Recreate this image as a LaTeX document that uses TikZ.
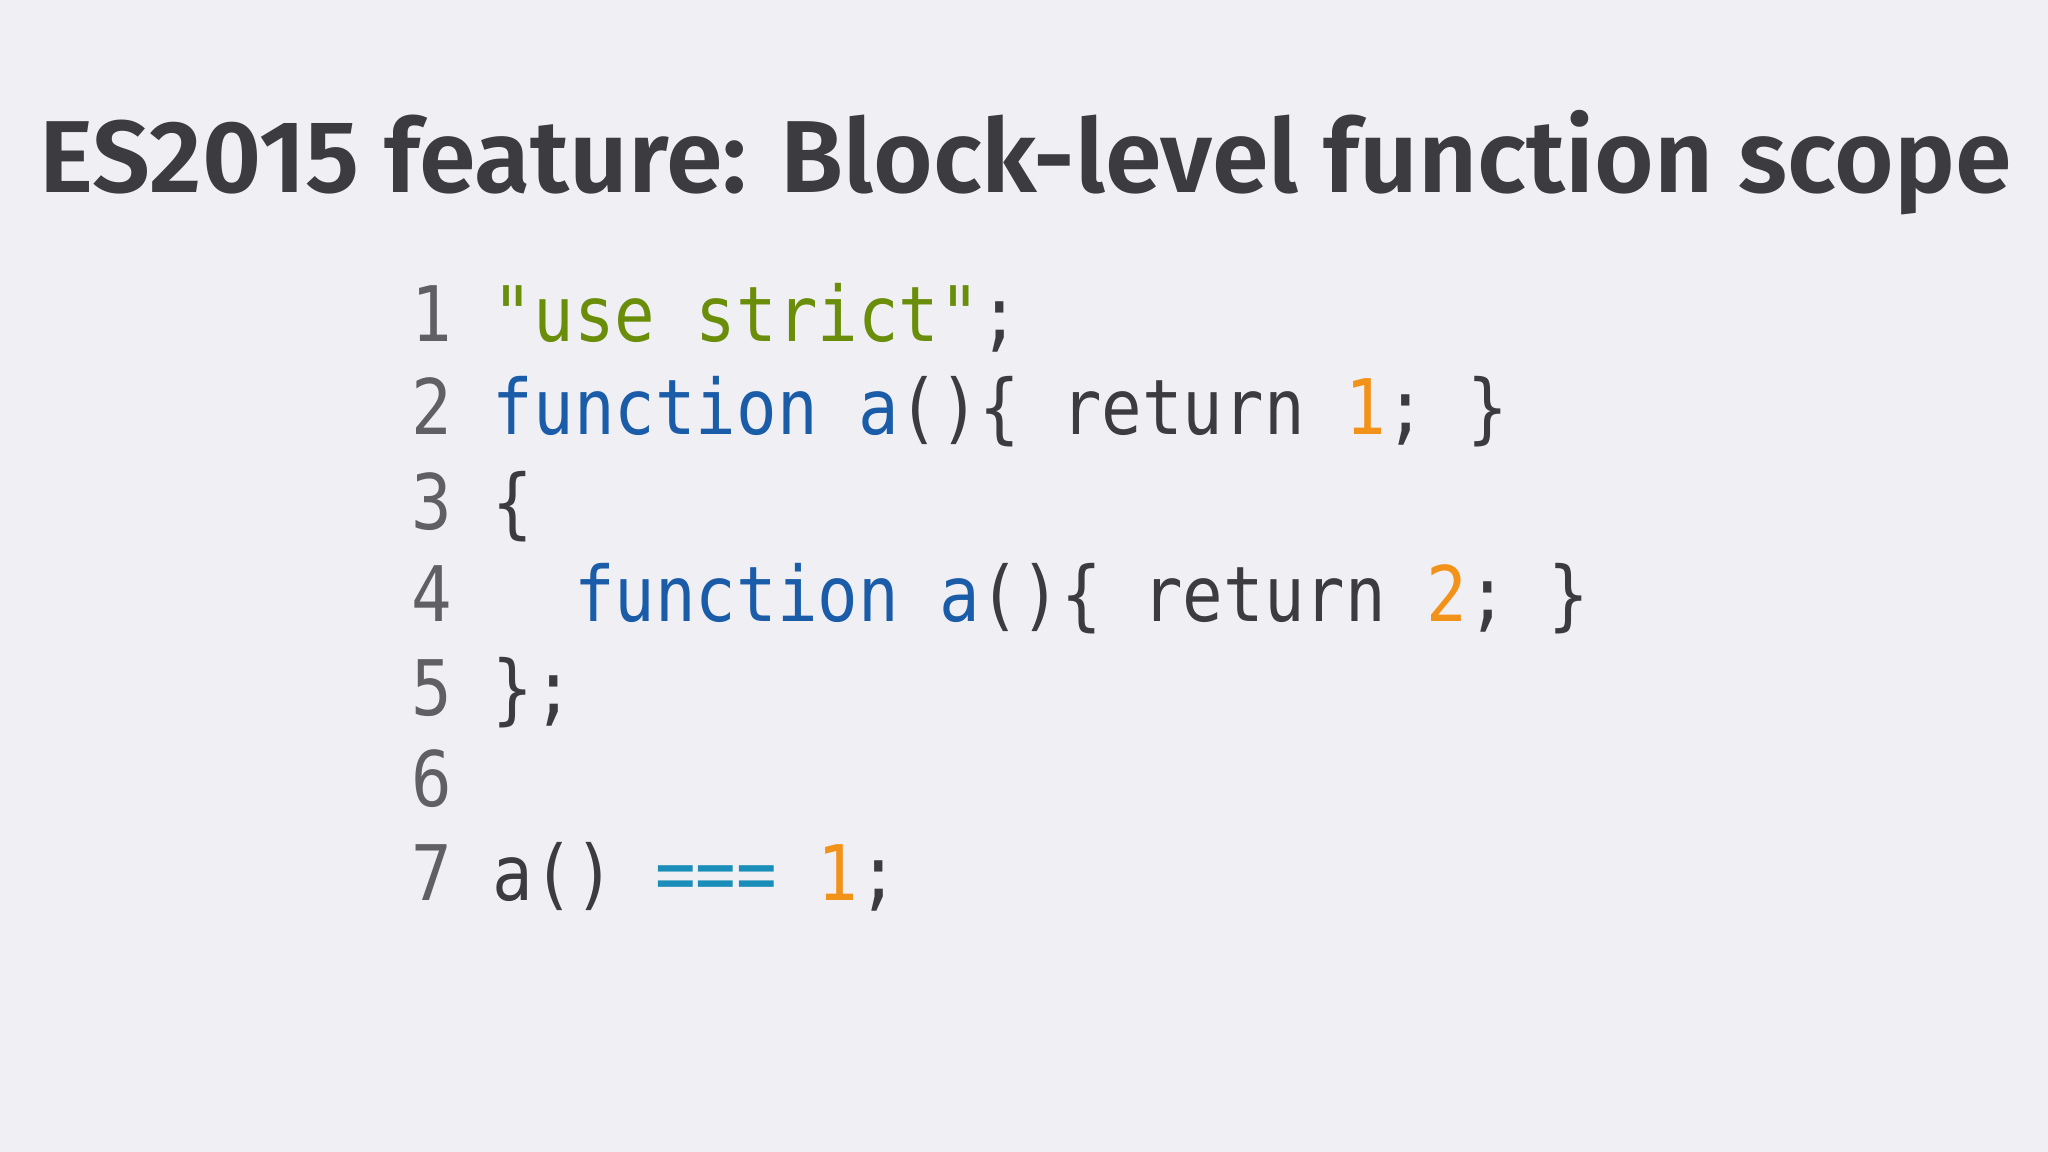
\documentclass[tikz,border=0pt]{standalone}
\usepackage{fontspec}
\newfontfamily\titlefont{Fira Sans SemiBold}
\newfontfamily\codefont[FakeStretch=0.88]{DejaVu Sans Mono}
\definecolor{bg}{HTML}{F0F0F4}
\definecolor{txt}{HTML}{3C3C40}
\definecolor{num}{HTML}{606064}
\definecolor{str}{HTML}{6A8E0A}
\definecolor{kw}{HTML}{1A5CA8}
\definecolor{lit}{HTML}{F39218}
\definecolor{op}{HTML}{1A8EB8}
\tikzset{codeline/.style={anchor=base west,inner sep=0pt,font=\codefont\fontsize{21.8pt}{24pt}\selectfont,text=txt}}
\begin{document}
\begin{tikzpicture}
\fill[bg] (0,0) rectangle (20.48,11.52);
\useasboundingbox (0,0) rectangle (20.48,11.52);
\node[anchor=base west,inner sep=0pt,text=txt] (title) at (0.39,9.59) {\resizebox{19.72cm}{!}{\titlefont\fontsize{32pt}{36pt}\selectfont ES2015 feature: Block-level function scope}};
\node[codeline] (l1) at (4.11,8.10) {\textcolor{num}{1} \textcolor{str}{"use strict"};};
\node[codeline] (l2) at (4.11,7.17) {\textcolor{num}{2} \textcolor{kw}{function} \textcolor{kw}{a}()\{ return \textcolor{lit}{1}; \}};
\node[codeline] (l3) at (4.11,6.22) {\textcolor{num}{3} \{};
\node[codeline] (l4) at (4.11,5.30) {\textcolor{num}{4} \phantom{xx}\textcolor{kw}{function} \textcolor{kw}{a}()\{ return \textcolor{lit}{2}; \}};
\node[codeline] (l5) at (4.11,4.36) {\textcolor{num}{5} \};};
\node[codeline] (l6) at (4.11,3.45) {\textcolor{num}{6}};
\node[codeline] (l7) at (4.11,2.51) {\textcolor{num}{7} a() \textcolor{op}{===} \textcolor{lit}{1};};
\end{tikzpicture}
\end{document}
